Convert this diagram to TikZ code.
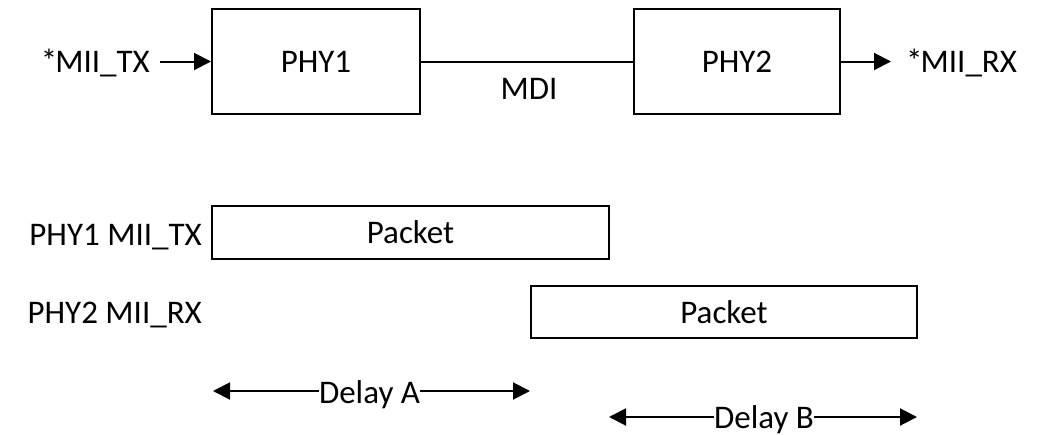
\documentclass[tikz,border=0pt]{standalone}
\usepackage{fontspec}
\setmainfont{Carlito}
\usetikzlibrary{arrows.meta}
\begin{document}
\begin{tikzpicture}[x=1pt,y=-1pt,
  font=\fontsize{33}{40}\selectfont,
  blockbox/.style={draw,line width=2pt,inner sep=0pt},
  lbl/.style={inner sep=0pt},
  conn/.style={line width=2pt},
  arr/.style={line width=2pt,-{Triangle[length=17pt,width=17pt]}}]
  \useasboundingbox (0,0) rectangle (1054,434);

  % link: PHY1 -- MDI -- PHY2
  \node[blockbox,minimum width=208pt,minimum height=105pt] (phy1) at (316,61.5) {PHY1};
  \node[blockbox,minimum width=206pt,minimum height=105pt] (phy2) at (737,61.5) {PHY2};
  \node[lbl,anchor=base east,inner xsep=10pt] (txin) at (160,72.5) {*\kern-2pt MII\_TX};
  \node[lbl,anchor=base west,inner xsep=15pt] (rxout) at (891,72.5) {*\kern-2pt MII\_RX};
  \node[lbl,anchor=base] (mdi) at (529,99) {MDI};
  \draw[arr] (txin.east |- phy1.west) -- (phy1.west);
  \draw[conn] (phy1.east) -- (phy2.west);
  \draw[arr] (phy2.east) -- (rxout.west |- phy2.east);

  % timing of the packet on both MII sides
  \node[lbl,anchor=base east] (txlbl) at (202,245) {PHY1 MII\_TX};
  \node[lbl,anchor=base east] (rxlbl) at (202,323) {PHY2 MII\_RX};
  \node[blockbox,minimum width=397pt,minimum height=53pt] (pkt1) at (410.5,232.5) {Packet};
  \node[blockbox,minimum width=386pt,minimum height=52pt] (pkt2) at (724,312) {Packet};

  % delay markers
  \node[lbl,anchor=base] (dla) at (369.5,403) {Delay A};
  \coordinate (aL) at (213,391);
  \coordinate (aR) at (530,391);
  \draw[arr] (aL -| dla.west) -- (aL);
  \draw[arr] (aR -| dla.east) -- (aR);

  \node[lbl,anchor=base] (dlb) at (764,428) {Delay B};
  \coordinate (bL) at (609,417);
  \coordinate (bR) at (917,417);
  \draw[arr] (bL -| dlb.west) -- (bL);
  \draw[arr] (bR -| dlb.east) -- (bR);
\end{tikzpicture}
\end{document}
